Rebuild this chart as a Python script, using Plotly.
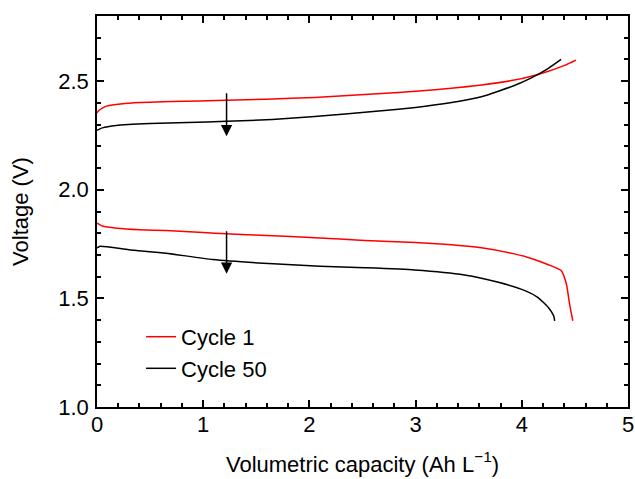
import plotly.graph_objects as go

# Cycle 1 (red) - charge and discharge
c1_charge_x = [0, 0.02, 0.05, 0.09, 0.2, 0.33, 0.7, 1.21, 1.6, 2.05, 2.68, 3.0, 3.31, 3.62, 3.93, 4.09, 4.25, 4.41, 4.51]
c1_charge_y = [2.355, 2.366, 2.376, 2.385, 2.394, 2.400, 2.406, 2.412, 2.417, 2.425, 2.443, 2.454, 2.466, 2.482, 2.505, 2.523, 2.546, 2.574, 2.597]
c1_dis_x = [0, 0.05, 0.19, 0.4, 0.65, 1.0, 1.22, 1.6, 2.05, 2.52, 3.0, 3.31, 3.62, 3.93, 4.09, 4.25, 4.37, 4.42, 4.45, 4.48]
c1_dis_y = [1.846, 1.833, 1.823, 1.816, 1.812, 1.803, 1.797, 1.790, 1.779, 1.767, 1.757, 1.748, 1.733, 1.705, 1.684, 1.655, 1.628, 1.566, 1.474, 1.397]

# Cycle 50 (black) - charge and discharge
c50_charge_x = [0, 0.05, 0.18, 0.5, 0.85, 1.22, 1.65, 2.05, 2.68, 3.0, 3.31, 3.62, 3.93, 4.09, 4.25, 4.37]
c50_charge_y = [2.274, 2.285, 2.296, 2.305, 2.310, 2.315, 2.324, 2.337, 2.364, 2.379, 2.399, 2.428, 2.480, 2.515, 2.559, 2.600]
c50_dis_x = [0, 0.03, 0.3, 0.65, 1.09, 1.66, 2.1, 2.52, 2.99, 3.46, 3.78, 4.03, 4.15, 4.25, 4.30, 4.31]
c50_dis_y = [1.732, 1.740, 1.724, 1.708, 1.679, 1.659, 1.648, 1.641, 1.631, 1.608, 1.574, 1.536, 1.505, 1.458, 1.420, 1.397]

series_names = ["Cycle 1", "Cycle 50"]
series_colors = ["#ff0000", "#000000"]

# Arrows (x, tail y, tip y)
arrow_x = [1.22, 1.22]
arrow_tail_y = [2.451, 1.816]
arrow_tip_y = [2.246, 1.613]

FONT = "Liberation Sans, Arial, sans-serif"
FS = 22

def line_style(color):
    return dict(color=color, width=1.5, shape="spline", smoothing=0.5)

fig = go.Figure()
fig.add_trace(go.Scatter(x=c1_charge_x, y=c1_charge_y, mode="lines", name=series_names[0],
                         line=line_style(series_colors[0]), legendgroup="c1"))
fig.add_trace(go.Scatter(x=c1_dis_x, y=c1_dis_y, mode="lines", name=series_names[0], showlegend=False,
                         line=line_style(series_colors[0]), legendgroup="c1"))
fig.add_trace(go.Scatter(x=c50_charge_x, y=c50_charge_y, mode="lines", name=series_names[1],
                         line=line_style(series_colors[1]), legendgroup="c50"))
fig.add_trace(go.Scatter(x=c50_dis_x, y=c50_dis_y, mode="lines", name=series_names[1], showlegend=False,
                         line=line_style(series_colors[1]), legendgroup="c50"))

for xa, yt, yh in zip(arrow_x, arrow_tail_y, arrow_tip_y):
    fig.add_annotation(x=xa, y=yh, ax=xa, ay=yt, xref="x", yref="y", axref="x", ayref="y",
                       showarrow=True, arrowhead=2, arrowsize=1.5, arrowwidth=1.5,
                       arrowcolor="black", text="")

axis_common = dict(showline=True, linecolor="black", linewidth=1.5, mirror="ticks",
                   ticks="inside", ticklen=7, tickwidth=1.5, tickcolor="black",
                   showgrid=False, zeroline=False, automargin=False,
                   tickfont=dict(family=FONT, size=FS, color="black"))

fig.update_xaxes(range=[0, 5], dtick=1, tick0=0, ticklabelstandoff=-3,
                 minor=dict(ticks="inside", dtick=0.2, ticklen=4, tickwidth=1.5, tickcolor="black"),
                 title=dict(text="Volumetric capacity (Ah L<sup>\u22121</sup>)",
                            font=dict(family=FONT, size=FS, color="black"), standoff=20),
                 **axis_common)
fig.update_yaxes(range=[1.0, 2.8], dtick=0.5, tick0=1.0, tickformat=".1f", ticklabelstandoff=2,
                 minor=dict(ticks="inside", dtick=0.1, ticklen=4, tickwidth=1.5, tickcolor="black"),
                 title=dict(text="Voltage (V)", font=dict(family=FONT, size=FS, color="black"), standoff=24),
                 **axis_common)

fig.update_layout(width=635, height=479,
                  margin=dict(l=97, r=7, t=16, b=72, pad=0),
                  plot_bgcolor="white", paper_bgcolor="white",
                  font=dict(family=FONT, size=FS, color="black"),
                  legend=dict(x=0.083, y=0.233, xanchor="left", yanchor="top",
                              bgcolor="rgba(0,0,0,0)", font=dict(family=FONT, size=FS, color="black"),
                              tracegroupgap=0))

fig.write_html("out.html", config={"displayModeBar": False},
               post_script="document.body.style.margin='0';")
